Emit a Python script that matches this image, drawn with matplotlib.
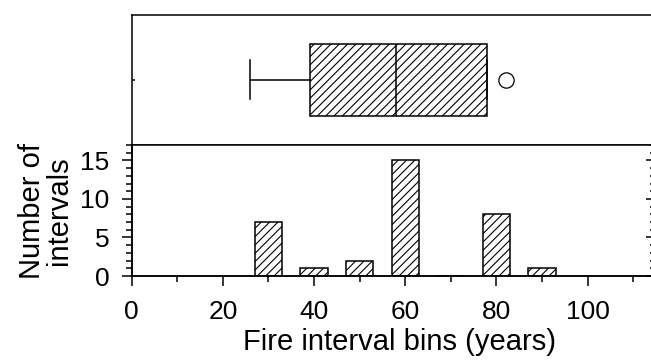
import matplotlib
matplotlib.use("Agg")
import matplotlib.pyplot as plt
from matplotlib.ticker import MultipleLocator

# fire interval data
bin_centers = [30, 40, 50, 60, 70, 80, 90]
counts = [7, 1, 2, 15, 0, 8, 1]

# box plot summary (years)
whisker_low = 26
q1 = 39
median = 58
q3 = 78
whisker_high = 78
outliers = [82]

x_ticks = [0, 20, 40, 60, 80, 100]
y_ticks = [0, 5, 10, 15]

plt.rcParams['font.family'] = ['Liberation Sans', 'DejaVu Sans']
plt.rcParams['hatch.linewidth'] = 0.8
plt.rcParams['axes.linewidth'] = 1.1


def main():
    fig = plt.figure(figsize=(6.51, 3.6), dpi=100)
    left = 131.7 / 651
    width = (656 - 131.7) / 651
    ax_box = fig.add_axes([left, 1 - 145 / 360, width, 130.5 / 360])
    ax = fig.add_axes([left, 1 - 276 / 360, width, 131 / 360])

    # --- box plot panel
    stats = [dict(med=median, q1=q1, q3=q3, whislo=whisker_low,
                  whishi=whisker_high, fliers=outliers)]
    ax_box.bxp(stats, positions=[1], widths=1.1, capwidths=0.6,
               orientation='horizontal', patch_artist=True,
               boxprops=dict(facecolor='white', edgecolor='black', hatch='////', linewidth=1.1),
               medianprops=dict(color='black', linewidth=1.1),
               whiskerprops=dict(color='black', linewidth=1.1),
               capprops=dict(color='black', linewidth=1.1),
               flierprops=dict(marker='o', markersize=11, markerfacecolor='none',
                               markeredgecolor='black', markeredgewidth=0.9))
    ax_box.set_xlim(0, 115)
    ax_box.set_ylim(0, 2)
    ax_box.xaxis.set_major_locator(MultipleLocator(20))
    ax_box.xaxis.set_minor_locator(MultipleLocator(10))
    ax_box.tick_params(axis='x', which='both', direction='out', labelbottom=False, width=1.1)
    ax_box.tick_params(axis='x', which='major', length=7.2)
    ax_box.tick_params(axis='x', which='minor', length=4.5)
    ax_box.set_yticks([1])
    ax_box.tick_params(axis='y', direction='in', length=2.5, width=1.1, labelleft=False)

    # --- histogram panel
    ax.bar(bin_centers, counts, width=6, color='white', edgecolor='black',
           hatch='////', linewidth=1.1, zorder=2)
    ax.set_xlim(0, 115)
    ax.set_ylim(0, 17)
    ax.set_xticks(x_ticks)
    ax.xaxis.set_minor_locator(MultipleLocator(10))
    ax.set_yticks(y_ticks)
    ax.yaxis.set_minor_locator(MultipleLocator(1))
    ax.tick_params(which='both', direction='out', width=1.1, labelsize=19)
    ax.tick_params(which='major', length=7.2)
    ax.tick_params(which='minor', length=4.5)
    ax.tick_params(axis='x', which='major', pad=10)
    ax.tick_params(axis='y', which='major', pad=9)
    ax.spines['top'].set_visible(False)

    ax_r = ax.twinx()
    ax_r.set_ylim(0, 17)
    ax_r.set_yticks(y_ticks)
    ax_r.yaxis.set_minor_locator(MultipleLocator(1))
    ax_r.tick_params(axis='y', which='both', direction='in', width=1.1, labelright=False)
    ax_r.tick_params(axis='y', which='major', length=7.2)
    ax_r.tick_params(axis='y', which='minor', length=4.5)

    ax.set_xlabel("Fire interval bins (years)", fontsize=21, labelpad=3)
    ax.xaxis.label.set_x(0.51)
    ax.set_ylabel("Number of\nintervals", fontsize=21, linespacing=0.95)
    ax.yaxis.set_label_coords(-0.112, 0.5)

    fig.savefig("out.png", dpi=100)


if __name__ == "__main__":
    main()
